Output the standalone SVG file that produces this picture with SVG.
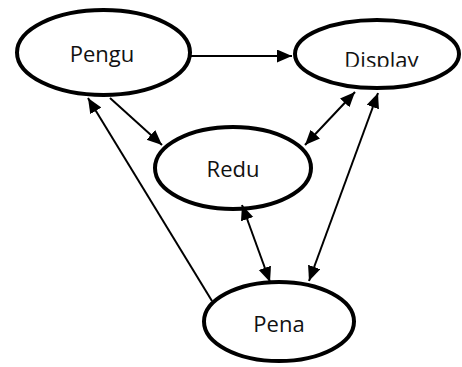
<svg xmlns="http://www.w3.org/2000/svg" width="462" height="367" viewBox="0 0 462 367">
<style>
.node ellipse{fill:#fff;stroke:#000;stroke-width:4}
.node text{font-family:"Open Sans","Noto Sans",sans-serif;font-size:22px;fill:#111;text-anchor:middle}
.edge{stroke:#000;stroke-width:2;fill:none}
</style>
<defs>
<marker id="ah" markerUnits="userSpaceOnUse" markerWidth="16" markerHeight="14" refX="15" refY="6.5" orient="auto-start-reverse">
<path d="M0,0 L15,6.5 L0,13 z" fill="#000"/>
</marker>
<clipPath id="dispclip"><rect x="290" y="0" width="172" height="66.7"/></clipPath>
</defs>
<rect width="462" height="367" fill="#fff"/>
<g id="pengu" class="node">
<ellipse cx="103.5" cy="52.5" rx="86.5" ry="42.5"/>
<text x="102" y="62">Pengu</text>
</g>
<g id="display" class="node">
<ellipse cx="377" cy="54" rx="82" ry="34"/>
<text x="381.5" y="68" clip-path="url(#dispclip)">Display</text>
</g>
<g id="redu" class="node">
<ellipse cx="233" cy="168" rx="78" ry="41"/>
<text x="233" y="177">Redu</text>
</g>
<g id="pena" class="node">
<ellipse cx="279" cy="321.5" rx="75" ry="39.5"/>
<text x="279" y="331.5">Pena</text>
</g>
<g id="connectors">
<path class="edge" d="M190,56 L292,56" marker-end="url(#ah)"/>
<path class="edge" d="M110,98 L162,145" marker-end="url(#ah)"/>
<path class="edge" d="M212,301 L88,98" marker-end="url(#ah)"/>
<path class="edge" d="M305,145 L355,92" marker-start="url(#ah)" marker-end="url(#ah)"/>
<path class="edge" d="M309,281 L378,93" marker-start="url(#ah)" marker-end="url(#ah)"/>
<path class="edge" d="M242,205 L270,282" marker-start="url(#ah)" marker-end="url(#ah)"/>
</g>
</svg>
